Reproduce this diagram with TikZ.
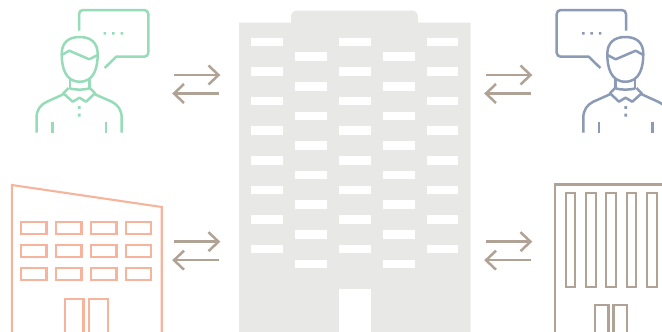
\documentclass[tikz,border=0pt]{standalone}
\definecolor{grn}{HTML}{97DCB9}
\definecolor{blu}{HTML}{8C9BB5}
\definecolor{pch}{HTML}{F5B49B}
\definecolor{tau}{HTML}{B0A295}
\definecolor{gry}{HTML}{E8E8E6}
\tikzset{
  flow/.style={draw=tau,line width=2.5pt},
  win/.style={fill=white},
  ln/.style={line width=2.5pt,line join=round},
  wall/.style={line width=2.1pt,line join=miter},
  pics/person/.style={code={
    \draw[ln,rounded corners=4pt] (79,30.7) -- (79,10) -- (148.3,10) -- (148.3,56.7) -- (115.7,56.7);
    \draw[ln] (116.2,56.7) -- (104.7,68);
    \fill (103.7,32) rectangle ++(2.5,2.6) (112.2,32) rectangle ++(2.5,2.6) (120.5,32) rectangle ++(2.5,2.6);
    \draw[ln] (79.7,37) .. controls (91,37) and (97.7,43) .. (97.7,54) .. controls (97.7,67) and (94.5,81.7) .. (79.7,81.7) .. controls (65,81.7) and (61.7,67) .. (61.7,54) .. controls (61.7,43) and (68,37) .. (79.7,37) -- cycle;
    \draw[ln] (61.7,55) -- (69.3,50.7) -- (89.3,59.3) -- (97.7,55);
    \draw[ln] (70,79) -- (70,89.3) (89.3,79) -- (89.3,89.3);
    \draw[ln] (70,88.5) .. controls (75,90) and (84,90) .. (89.3,88.5);
    \draw[ln] (68.5,88) -- (63.3,93.3) -- (72.7,101.7) -- (79.5,97.7) -- (86,101.7) -- (95,93.3) -- (90,88);
    \draw[ln] (63.3,94.3) -- (47,101.7) .. controls (40,105) and (36.5,110) .. (36.5,118) -- (36.5,132.5);
    \draw[ln] (95,94.3) -- (111.7,101.7) .. controls (118,105) and (121.7,110) .. (121.7,118) -- (121.7,132.5);
    \draw[ln] (52.3,121.7) -- (52.3,132.5) (106,121.7) -- (106,132.5);
    \fill (77.9,106) rectangle ++(2.8,2.8) (77.9,113.7) rectangle ++(2.8,2.8);
  }}
}
\begin{document}
\begin{tikzpicture}[x=1pt,y=-1pt]
\useasboundingbox (0,0) rectangle (662,332);
\fill[white] (0,0) rectangle (662,332);
% central tower
\fill[gry] (239,332) -- (239,22.5) -- (291,22.5) -- (291,16.5) .. controls (291,13) and (294,10.5) .. (297,10.5) -- (412,10.5) .. controls (415,10.5) and (418,13) .. (418,16.5) -- (418,22.5) -- (470.5,22.5) -- (470.5,332) -- cycle;
\foreach \x in {251,339,426.5}
  \foreach \y in {37.5,67.1,96.7,126.3,155.9,185.5,215.1,244.8}
    \fill[win] (\x,\y) rectangle ++(31.6,8.6);
\foreach \x in {295,383}
  \foreach \y in {52.3,81.9,111.5,141.1,170.7,200.3,229.9,259.5}
    \fill[win] (\x,\y) rectangle ++(31.6,8.6);
\fill[win] (339,289) rectangle (370.6,332);
% exchange arrows
\foreach \x/\y in {174/75,486/75,174/241.7,486/241.7}{
  \draw[flow] (\x,\y) -- ++(44.5,0);
  \draw[flow] (\x+34.5,\y-9.5) -- ++(10,9.5) -- ++(-10,9.5);
  \draw[flow] (\x+44.5,\y+18.5) -- ++(-44.5,0);
  \draw[flow] (\x+10,\y+9) -- ++(-10,9.5) -- ++(10,9.5);
}
% people
\begin{scope}[draw=grn,fill=grn]
\pic {person};
\end{scope}
\begin{scope}[draw=blu,fill=blu]
\pic[transform shape,xscale=-1] at (705,0) {person};
\end{scope}
% left building
\begin{scope}[draw=pch]
\draw[wall] (11.8,333) -- (11.8,185) -- (161.7,207) -- (161.7,333);
\foreach \x in {21,56,91,125.7}
  \foreach \y in {221.7,244.7,267.7}
    \draw[wall] (\x,\y) rectangle ++(25.5,12);
\draw[wall] (65,333) -- (65,298.7) -- (83.5,298.7) -- (83.5,333);
\draw[wall] (89.3,333) -- (89.3,298.7) -- (108.3,298.7) -- (108.3,333);
\end{scope}
% right building
\begin{scope}[draw=tau]
\draw[wall] (555,333) -- (555,184.5) -- (663,184.5);
\foreach \x in {565.7,586,606.3,626.7,647}
  \draw[wall] (\x,192.7) rectangle ++(9.7,94);
\draw[wall] (595,333) -- (595,305.3) -- (608.5,305.3) -- (608.5,333);
\draw[wall] (613.5,333) -- (613.5,305.3) -- (627.3,305.3) -- (627.3,333);
\end{scope}
\end{tikzpicture}
\end{document}
